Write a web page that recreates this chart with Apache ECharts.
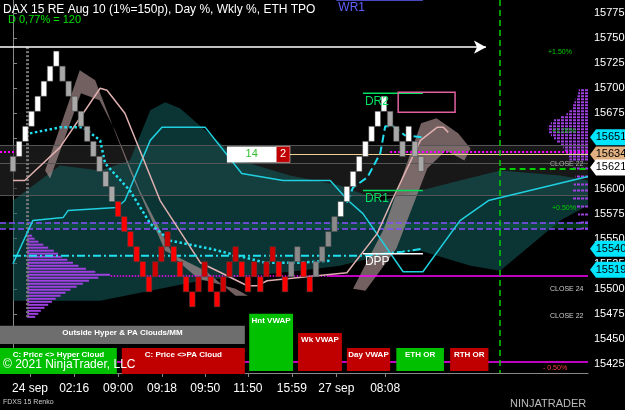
<!DOCTYPE html>
<html><head><meta charset="utf-8">
<script src="https://cdn.jsdelivr.net/npm/echarts@6/dist/echarts.min.js"></script>
<style>html,body{margin:0;padding:0;background:#000}#c{width:625px;height:410px}</style>
</head><body><div id="c"></div>
<script>
// ---- data ----
const brickLevels=[7,6,5,4,3,2,1,0,1,2,3,4,5,6,7,8,9,10,11,12,13,14,15,14,13,12,13,14,15,16,15,14,15,16,15,14,13,14,15,14,15,14,13,14,15,14,13,14,15,14,13,12,11,10,9,8,7,6,5,4,3,4,5,6,5,6,7];
const brickColors="gwwwwwwwgggggggggrrrrrrdddrrrrddrrdddrrdrddrrmmrrmmmmwwwwwwwwgggwgg";
const brickTop=15737, brickSize=15;
const xTickPos=[2.75,9.9,17,24.1,31.1,38,45.1,52.3,60.2];
const xTickLabels=['24 sep','02:16','09:00','09:18','09:50','11:50','15:59','27 sep','08:08'];
const yTicks=[15425,15450,15475,15500,15525,15550,15575,15600,15625,15650,15675,15700,15725,15750,15775];
const hyperLine=[[0,15525],[3.2,15568],[8.1,15571],[8.9,15578],[16.8,15581],[18.1,15588],[22.2,15648],[24.1,15661],[31.1,15661],[37,15615],[43.7,15608],[51.3,15608],[54.2,15588],[56.6,15575],[63.1,15517],[66.3,15517],[72.3,15568],[76.9,15588],[93,15612]];
const vwapDots=[[2.75,15655],[7.6,15661],[11.3,15661],[14.1,15648],[14.9,15625],[18.9,15598],[22.2,15565],[25.4,15548],[31.9,15540],[40.8,15526],[46.4,15526],[51.3,15528]];
const vwapDash=[[54,15586],[55,15601],[57.3,15611],[59.4,15635],[60.2,15662],[61.5,15662],[63.4,15653],[66.3,15651]];
const dashDot=[[0,15533],[57,15533],[63,15537],[66.3,15540]];
const paLine=[[0,15608],[1.9,15608],[7.6,15641],[14.1,15700],[15.2,15698],[18.1,15675],[23.8,15588],[30.3,15526],[33,15518],[37.9,15503],[39.5,15503],[41.1,15508],[44.3,15510],[54,15516],[58.9,15555],[61.3,15588],[65.9,15648],[68.6,15661],[69.6,15661],[70.4,15656]];
const paBand1=[[5.2,15618],[10.8,15718],[13.3,15708],[18.9,15618],[24.6,15538],[31.1,15518],[36,15493],[38,15493],[36,15500],[30,15510],[26.2,15530],[20.5,15598],[16.5,15658],[14,15688],[11,15695],[6,15610]];
const paBand2=[[55,15500],[60,15560],[66,15665],[68.5,15670],[72,15655],[74,15640],[73,15628],[70,15638],[67,15620],[62,15540],[57,15498]];
const hyperCloud=[[0,15588],[7.6,15623],[14.1,15618],[18.9,15628],[22.2,15678],[24.6,15686],[27,15680],[31.1,15658],[36.7,15628],[44.8,15613],[52.9,15603],[59.4,15588],[65.9,15598],[72.3,15608],[78.8,15618],[88.5,15613],[93,15608],[93,15583],[88.5,15568],[78.8,15518],[74,15523],[65.9,15538],[59.4,15533],[52.9,15523],[46.4,15518],[38.3,15513],[30.3,15508],[14.1,15488],[0,15488]];
const leftProfile=[[15553,0.8],[15550,1.2],[15547,1.8],[15544,2.6],[15541,3.4],[15538,4.3],[15535,5],[15532,5.6],[15529,6.5],[15526,7.4],[15523,8.3],[15520,9.5],[15517,11],[15514,13.4],[15511,11.5],[15508,10],[15505,9],[15502,8],[15499,7],[15496,6.2],[15493,5.4],[15490,4.6],[15487,4],[15484,3.4],[15481,2.8],[15478,2.2],[15475,1.8],[15472,1.3]];
const rightProfile=[[15698,1.5],[15695,1.6],[15692,1.7],[15689,2],[15686,2.2],[15683,2.4],[15680,2.6],[15677,3],[15674,3.5],[15671,4.5],[15668,5.5],[15665,6],[15662,6.5],[15659,6.5],[15656,6.3],[15653,6],[15650,5.5],[15647,5],[15644,4.5],[15641,4],[15638,3.8],[15635,3.5],[15632,3.2],[15629,3],[15620,2.5],[15612,2],[15604,2.3],[15598,2.6],[15590,2.5],[15582,2],[15574,1.6],[15566,1.4],[15560,1]];
const boxes=[
 [-2.1,37.5,15463,15445,'Outside Hyper & PA Clouds/MM','#6e6e6e'],
 [-2.1,16.8,15441,15415,'C: Price <> Hyper Cloud','#00c000'],
 [17.6,37.5,15441,15415,'C: Price <>PA Cloud','#c00000'],
 [38.2,45.3,15475,15418,'Hnt VWAP','#00c000'],
 [46.1,53.2,15456,15418,'Wk VWAP','#c00000'],
 [54,61,15441,15418,'Day VWAP','#c00000'],
 [62,69.7,15441,15418,'ETH OR','#00c000'],
 [70.7,76.9,15441,15418,'RTH OR','#c00000']];
const tags=[[15651,'15651','#00e5ff','#000'],[15634,'15634','#e0b080','#000'],[15621,'15621','#ffffff','#000'],[15540,'15540','#00e5ff','#000'],[15519,'15519','#00e5ff','#000']];
const levelLines=[[15788,52.3,66.3,'WR1','#6060ff'],[15695,56.6,66.3,'DR2','#00e060'],[15598,56.6,66.3,'DR1','#00e060'],[15535,56.6,66.3,'DPP','#ffffff']];

// ---- chart ----
const ch=echarts.init(document.getElementById('c'));
const colMap={w:'#ffffff',g:'#a8a8a8',r:'#ff0000',d:'#d00000',m:'#8a8a8a'};
const bricks=brickLevels.map((k,i)=>[i,brickTop-brickSize*(k+1),brickTop-brickSize*k,brickColors[i]]);
function poly(pts,fill,z){return {type:'custom',z:z,silent:true,data:[0],renderItem:(p,api)=>({type:'polygon',shape:{points:pts.map(q=>api.coord(q))},style:{fill:fill}})};}
function line(d,color,type,w,z){return {type:'line',data:d,symbol:'none',z:z,lineStyle:{color:color,type:type,width:w},silent:true};}
function ml(x1,y1,x2,y2,color,w,type){return [{coord:[x1,y1],lineStyle:{color:color,width:w,type:type}},{coord:[x2,y2]}];}
const series=[
 poly(hyperCloud,'rgba(20,95,95,0.55)',1),
 poly(paBand1,'rgba(190,160,160,0.6)',2),
 poly(paBand2,'rgba(190,160,160,0.6)',2),
 {type:'line',data:[],z:3,
  markArea:{silent:true,itemStyle:{color:'rgba(40,40,40,0.6)'},data:[[{yAxis:15593},{yAxis:15643}],[{yAxis:15560},{yAxis:15566,itemStyle:{color:'rgba(0,70,30,0.8)'}}]]},
  markLine:{silent:true,symbol:'none',label:{show:false},data:[
   ml(-2.1,15643,93,15643,'#555',1,'solid'),
   ml(-2.1,15625,93,15625,'#555',1,'solid'),
   ml(-2.1,15593,93,15593,'#555',1,'solid'),
   ml(-2.1,15566,93,15566,'#8a4cff',1.5,'dashed'),
   ml(-2.1,15560,93,15560,'#8a4cff',1.5,'dashed'),
   ml(35,15634,93,15634,'#f0d090',1,'solid'),
   ml(61,15637,93,15637,'#ff00ff',2,'dotted'),
   ml(-2.1,15637,1.5,15637,'#ff00ff',2,'dotted'),
   ml(15.8,15513,51,15513,'#ff00ff',1.5,'dotted'),
   ml(51,15513,93,15513,'#ff00ff',1.5,'solid'),
   ml(-2.1,15427,93,15427,'#ff00ff',1.5,'solid'),
   ml(78.7,15788,78.7,15416,'#00d000',1.5,[6,4]),
   ml(78.7,15620,93,15620,'#00d000',2,[6,4]),
   ml(2.3,15741,2.3,15470,'#777',3,[2,2])
  ]}},
 {type:'line',data:[],z:3,markLine:{silent:true,symbol:['none','arrow'],symbolSize:[10,12],label:{show:false},data:[ml(-2.1,15741,76.5,15741,'#fff',1.5,'solid')]}},
 {type:'custom',z:4,silent:true,data:leftProfile,renderItem:(p,api)=>{const a=api.coord([2.3,api.value(0)]),b=api.coord([2.3+api.value(1),api.value(0)]);return {type:'line',shape:{x1:a[0],y1:a[1],x2:b[0],y2:b[1]},style:{stroke:'#a040e0',lineWidth:2}};}},
 {type:'custom',z:4,silent:true,data:rightProfile,renderItem:(p,api)=>{const a=api.coord([93,api.value(0)]),b=api.coord([93-api.value(1),api.value(0)]);return {type:'line',shape:{x1:a[0],y1:a[1],x2:b[0],y2:b[1]},style:{stroke:'#a040e0',lineWidth:2,lineDash:[3,1]}};}},
 line(hyperLine,'#20d0e0','solid',1.5,5),
 line(paLine,'#e0b0b0','solid',1.5,5),
 line(vwapDots,'#20e0f0','dotted',2.5,5),
 line(vwapDash,'#20e0f0','dashed',2,5),
 line(dashDot,'#20e0f0',[8,3,2,3],2,5),
 {type:'custom',z:6,silent:true,data:bricks,renderItem:(p,api)=>{const lo=api.coord([api.value(0),api.value(1)]),hi=api.coord([api.value(0),api.value(2)]);const w=api.size([1,0])[0]*0.9;return {type:'rect',shape:{x:lo[0]-w/2,y:hi[1],width:w,height:lo[1]-hi[1]},style:{fill:colMap[bricks[p.dataIndex][3]],stroke:'#444',lineWidth:0.5}};}},
 {type:'custom',z:7,silent:true,data:levelLines,renderItem:(p,api)=>{const d=levelLines[p.dataIndex];const a=api.coord([d[1],d[0]]),b=api.coord([d[2],d[0]]);return {type:'group',children:[{type:'line',shape:{x1:a[0],y1:a[1],x2:b[0],y2:b[1]},style:{stroke:d[4],lineWidth:1.5}},{type:'text',x:a[0]+2,y:a[1]+2,style:{text:d[3],fill:d[4],font:'12px Arial',textVerticalAlign:'top'}}]};}},
 {type:'custom',z:8,silent:true,data:[0],renderItem:(p,api)=>{const a=api.coord([34.6,15642]),b=api.coord([42.6,15626]),c=api.coord([44.8,15626]);const e=api.coord([62.3,15696]),f=api.coord([71.5,15676]);return {type:'group',children:[
   {type:'rect',shape:{x:a[0],y:a[1],width:b[0]-a[0],height:b[1]-a[1]},style:{fill:'#fff'}},
   {type:'rect',shape:{x:b[0],y:a[1],width:c[0]-b[0],height:b[1]-a[1]},style:{fill:'#c00000',stroke:'#fff',lineWidth:0.5}},
   {type:'text',x:(a[0]+b[0])/2,y:(a[1]+b[1])/2,style:{text:'14',fill:'#30c030',font:'11px Arial',align:'center',verticalAlign:'middle'}},
   {type:'text',x:(b[0]+c[0])/2,y:(a[1]+b[1])/2,style:{text:'2',fill:'#fff',font:'11px Arial',align:'center',verticalAlign:'middle'}},
   {type:'rect',shape:{x:e[0],y:e[1],width:f[0]-e[0],height:f[1]-e[1]},style:{fill:'none',stroke:'#e060a0',lineWidth:1.5}}
 ]};}},
 {type:'custom',z:9,silent:true,data:boxes,renderItem:(p,api)=>{const d=boxes[p.dataIndex];const a=api.coord([d[0],d[2]]),b=api.coord([d[1],d[3]]);return {type:'group',children:[{type:'rect',shape:{x:a[0],y:a[1],width:b[0]-a[0],height:b[1]-a[1]},style:{fill:d[5]}},{type:'text',x:(a[0]+b[0])/2,y:a[1]+3,style:{text:d[4],fill:'#fff',font:'bold 8px Arial',align:'center',verticalAlign:'top'}}]};}},
 {type:'custom',z:10,silent:true,data:tags,clip:false,renderItem:(p,api)=>{const d=tags[p.dataIndex];const a=api.coord([93,d[0]]);const x=a[0]+2,y=a[1];return {type:'group',children:[{type:'polygon',shape:{points:[[x,y],[x+6,y-8],[x+35,y-8],[x+35,y+8],[x+6,y+8]]},style:{fill:d[2]}},{type:'text',x:x+21,y:y,style:{text:d[1],fill:d[3],font:'11px Arial',align:'center',verticalAlign:'middle'}}]};}},
];
ch.setOption({
 backgroundColor:'#000',animation:false,
 grid:{left:0,right:37,top:0,bottom:37,outerBoundsMode:'none',containLabel:false},
 xAxis:{type:'value',min:-2.1,max:93,splitLine:{show:false},axisLine:{show:true,lineStyle:{color:'#888'}},
  axisTick:{show:true,length:4,lineStyle:{color:'#888'},customValues:xTickPos},
  axisLabel:{color:'#fff',fontSize:12,fontFamily:'Arial',margin:10,customValues:xTickPos,formatter:v=>xTickLabels[xTickPos.indexOf(v)]||''}},
 yAxis:{type:'value',position:'right',min:15416,max:15788,splitLine:{show:false},axisLine:{show:true,lineStyle:{color:'#888'}},
  axisTick:{show:true,length:4,inside:false,lineStyle:{color:'#888'},customValues:yTicks},
  axisLabel:{color:'#fff',fontSize:11,fontFamily:'Arial',margin:6,customValues:yTicks,formatter:v=>String(v)}},
 graphic:[
  {type:'text',left:3,top:4,style:{text:'DAX 15 RE Aug 10 (1%=150p), Day %, Wkly %, ETH TPO',fill:'#fff',font:'12px Arial'},z:20},
  {type:'text',left:8,top:14,style:{text:'D 0,77% = 120',fill:'#00e000',font:'11px Arial'},z:20},
  {type:'text',left:3,top:359,style:{text:'© 2021 NinjaTrader, LLC',fill:'#fff',font:'12px Arial'},z:20},
  {type:'text',left:3,top:399,style:{text:'FDXS 15 Renko',fill:'#ccc',font:'7px Arial'},z:20},
  {type:'text',left:510,top:398,style:{text:'NINJATRADER',fill:'#bbb',font:'11px Arial'},z:20},
  {type:'text',left:548,top:49,style:{text:'+1.50%',fill:'#00d000',font:'7px Arial'},z:20},
  {type:'text',left:552,top:128,style:{text:'+1.00%',fill:'#00d000',font:'7px Arial'},z:20},
  {type:'text',left:552,top:205,style:{text:'+0.50%',fill:'#00d000',font:'7px Arial'},z:20},
  {type:'text',left:550,top:161,style:{text:'CLOSE 22',fill:'#aaa',font:'7px Arial'},z:20},
  {type:'text',left:550,top:286,style:{text:'CLOSE 24',fill:'#ccc',font:'7px Arial'},z:20},
  {type:'text',left:550,top:313,style:{text:'CLOSE 22',fill:'#ccc',font:'7px Arial'},z:20},
  {type:'text',left:543,top:365,style:{text:'- 0.50%',fill:'#ff4040',font:'7px Arial'},z:20}
 ],
 series:series
});
</script></body></html>
